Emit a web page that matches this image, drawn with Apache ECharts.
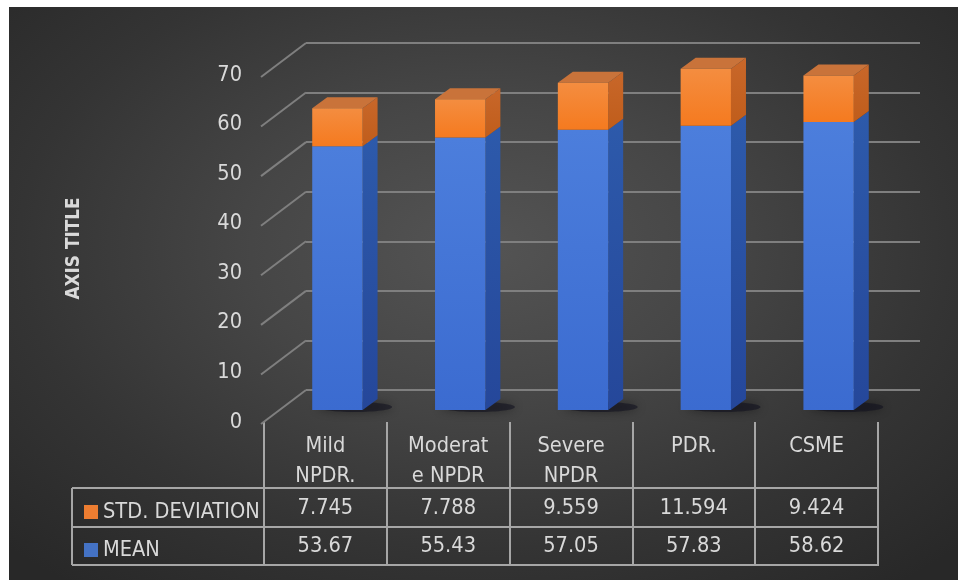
<!DOCTYPE html>
<html>
<head>
<meta charset="utf-8">
<script src="https://cdn.jsdelivr.net/npm/echarts@6/dist/echarts.min.js"></script>
<style>
  html, body { margin: 0; padding: 0; background: #ffffff; }
  #bg {
    position: absolute; left: 9px; top: 7px; width: 949px; height: 573px;
    background: radial-gradient(ellipse 70% 75% at 50% 42%, #545454 0%, #464646 35%, #343434 70%, #282828 100%);
  }
  #chart { position: absolute; left: 0; top: 0; width: 958px; height: 580px; }
</style>
</head>
<body>
<div id="bg"></div>
<div id="chart"></div>
<script>
// Diabetic retinopathy grades: mean and standard deviation
const categories = ['Mild NPDR.', 'Moderate NPDR', 'Severe NPDR', 'PDR.', 'CSME'];
// header text as it wraps inside the table cells
const headerLines = [['Mild', 'NPDR.'], ['Moderat', 'e NPDR'], ['Severe', 'NPDR'], ['PDR.'], ['CSME']];
const meanValues = [53.67, 55.43, 57.05, 57.83, 58.62];
const stdValues = [7.745, 7.788, 9.559, 11.594, 9.424];
const yTicks = [0, 10, 20, 30, 40, 50, 60, 70];

// pick a narrow sans face and size it so table text keeps its cell widths
const measureCtx = document.createElement('canvas').getContext('2d');
function textWidth(font, text) { measureCtx.font = font; return measureCtx.measureText(text).width; }
function hasFont(name) {
  return textWidth('40px "' + name + '", monospace', 'STD. DEVIATION 0123') !==
         textWidth('40px monospace', 'STD. DEVIATION 0123');
}
const FACE = ['Liberation Sans Narrow', 'DejaVu Sans Condensed', 'Roboto', 'Liberation Sans']
  .find(hasFont) || 'sans-serif';
const FONT = '"' + FACE + '", sans-serif';
const FS = Math.round(10 * 24 * 157 / textWidth('24px ' + FONT, 'STD. DEVIATION')) / 10;
const FS_TITLE = Math.round(10 * 24 * 102 / textWidth('bold 24px ' + FONT, 'AXIS TITLE')) / 10;

const TEXT = '#d9d9d9';
const LINE = '#a6a6a6';
const GRID = '#7f7f7f';

// front plane of the 3-D box, the back wall is pushed up and right by DEPTH
const FRONT = { left: 264, right: 80, top: 75, bottom: 158 };
const DEPTH = { dx: 42, dy: 32 };
// plane where the columns stand
const BARS = { left: 276, right: 68, top: 66, bottom: 170 };
const SIDE = { dx: 15, dy: 11 };

const chart = echarts.init(document.getElementById('chart'), null, { renderer: 'canvas' });

function box(params, api, colors, withTop, withShadow) {
  const i = api.value(0);
  const b = api.coord([i, api.value(1)]);
  const t = api.coord([i, api.value(2)]);
  const w = api.size([1, 0])[0] * 0.41;
  const x0 = b[0] - w / 2, x1 = b[0] + w / 2;
  const yb = b[1], yt = t[1];
  const children = [];
  if (withShadow) {
    children.push({
      type: 'ellipse',
      shape: { cx: (x0 + x1 + SIDE.dx) / 2 + 10, cy: yb - 3, rx: w / 2 + 12, ry: 5 },
      style: { fill: 'rgba(15,15,30,0.55)', shadowBlur: 10, shadowColor: 'rgba(0,0,0,0.7)' },
      z2: 0
    });
  }
  children.push({
    type: 'polygon',
    shape: { points: [[x1, yt], [x1 + SIDE.dx, yt - SIDE.dy], [x1 + SIDE.dx, yb - SIDE.dy], [x1, yb]] },
    style: {
      fill: new echarts.graphic.LinearGradient(0, 0, 0, 1, [
        { offset: 0, color: colors.side[0] },
        { offset: 1, color: colors.side[1] }
      ])
    },
    z2: 1
  });
  if (withTop) {
    children.push({
      type: 'polygon',
      shape: { points: [[x0, yt], [x0 + SIDE.dx, yt - SIDE.dy], [x1 + SIDE.dx, yt - SIDE.dy], [x1, yt]] },
      style: { fill: colors.top },
      z2: 2
    });
  }
  children.push({
    type: 'rect',
    shape: { x: x0, y: yt, width: w, height: yb - yt },
    style: {
      fill: new echarts.graphic.LinearGradient(0, 0, 0, 1, [
        { offset: 0, color: colors.front[0] },
        { offset: 1, color: colors.front[1] }
      ])
    },
    z2: 3
  });
  return { type: 'group', children };
}

const meanData = meanValues.map((v, i) => [i, 0, v]);
const stdData = stdValues.map((v, i) => [i, meanValues[i], meanValues[i] + v]);

function cellLabel(value, index) {
  const h = headerLines[index].slice();
  while (h.length < 2) h.push(' ');
  return h.map(s => '{h|' + s + '}').join('\n') +
    '\n{v1|' + stdValues[index] + '}\n{v2|' + meanValues[index] + '}';
}

const option = {
  backgroundColor: 'transparent',
  animation: false,
  textStyle: { fontFamily: FONT },
  legend: {
    orient: 'vertical',
    left: 79,
    top: 488,
    itemGap: 0,
    itemWidth: 14,
    itemHeight: 14,
    icon: 'rect',
    selectedMode: false,
    data: ['STD. DEVIATION', 'MEAN'],
    textStyle: { color: TEXT, fontSize: FS, fontFamily: FONT, lineHeight: 38, padding: [0, 0, 0, 0] }
  },
  grid: [
    { left: FRONT.left, right: FRONT.right, top: FRONT.top, bottom: FRONT.bottom },
    { left: BARS.left, right: BARS.right, top: BARS.top, bottom: BARS.bottom },
    { left: FRONT.left + DEPTH.dx, right: 38, top: FRONT.top - DEPTH.dy, bottom: FRONT.bottom + DEPTH.dy }
  ],
  xAxis: [
    {
      gridIndex: 0, type: 'category', data: categories,
      axisLine: { show: false },
      axisTick: { show: true, alignWithLabel: false, length: 143, lineStyle: { color: LINE, width: 2 } },
      axisLabel: {
        interval: 0, margin: 9, verticalAlign: 'top', color: TEXT,
        formatter: cellLabel,
        rich: {
          h: { fontSize: FS, fontFamily: FONT, color: TEXT, lineHeight: 30, align: 'center' },
          v1: { fontSize: FS, fontFamily: FONT, color: TEXT, lineHeight: 34, align: 'center' },
          v2: { fontSize: FS, fontFamily: FONT, color: TEXT, lineHeight: 42, align: 'center' }
        }
      },
      splitLine: { show: false }
    },
    { gridIndex: 1, type: 'category', data: categories, show: false },
    { gridIndex: 2, type: 'category', data: categories, show: false }
  ],
  yAxis: [
    {
      gridIndex: 0, type: 'value', min: 0, max: 70, interval: 10,
      name: 'AXIS TITLE', nameLocation: 'middle', nameGap: 180,
      nameTextStyle: { color: TEXT, fontSize: FS_TITLE, fontWeight: 'bold', fontFamily: FONT },
      axisLine: { show: false }, axisTick: { show: false },
      axisLabel: { color: TEXT, fontSize: FS, margin: 22, fontFamily: FONT },
      splitLine: { show: false }
    },
    { gridIndex: 1, type: 'value', min: 0, max: 70, interval: 10, show: false, splitLine: { show: false } },
    {
      gridIndex: 2, type: 'value', min: 0, max: 70, interval: 10,
      axisLine: { show: false }, axisTick: { show: false }, axisLabel: { show: false },
      splitLine: { show: true, lineStyle: { color: GRID, width: 2 } }
    }
  ],
  graphic: {
    elements: [
      // table row borders
      { type: 'line', shape: { x1: 72, y1: 488, x2: 879, y2: 488 }, style: { stroke: LINE, lineWidth: 2 } },
      { type: 'line', shape: { x1: 72, y1: 527, x2: 879, y2: 527 }, style: { stroke: LINE, lineWidth: 2 } },
      { type: 'line', shape: { x1: 72, y1: 565, x2: 879, y2: 565 }, style: { stroke: LINE, lineWidth: 2 } },
      { type: 'line', shape: { x1: 72, y1: 488, x2: 72, y2: 565 }, style: { stroke: LINE, lineWidth: 2 } }
    ]
  },
  series: [
    {
      // side wall: connects each front tick to the back wall
      type: 'custom', xAxisIndex: 0, yAxisIndex: 0, silent: true, legendHoverLink: false,
      data: yTicks.map(v => [0, v]),
      renderItem(params, api) {
        const p = api.coord([0, api.value(1)]);
        const x = params.coordSys.x;
        return {
          type: 'line',
          shape: { x1: x - 3, y1: p[1] + 2, x2: x + DEPTH.dx, y2: p[1] - DEPTH.dy },
          style: { stroke: GRID, lineWidth: 2 }
        };
      },
      z: 1
    },
    {
      name: 'MEAN', type: 'custom', xAxisIndex: 1, yAxisIndex: 1,
      itemStyle: { color: '#4472c4' },
      encode: { x: 0, y: 2 },
      data: meanData,
      renderItem: (params, api) => box(params, api,
        { front: ['#4c7edc', '#3b6bd0'], side: ['#2d5aab', '#25479a'], top: '#3a66bb' }, false, true),
      z: 3
    },
    {
      name: 'STD. DEVIATION', type: 'custom', xAxisIndex: 1, yAxisIndex: 1,
      itemStyle: { color: '#ed7d31' },
      encode: { x: 0, y: 2 },
      data: stdData,
      renderItem: (params, api) => box(params, api,
        { front: ['#f48d40', '#f57a1f'], side: ['#c8672a', '#c05d1b'], top: '#c9733a' }, true, false),
      z: 4
    }
  ]
};

chart.setOption(option);
</script>
</body>
</html>
